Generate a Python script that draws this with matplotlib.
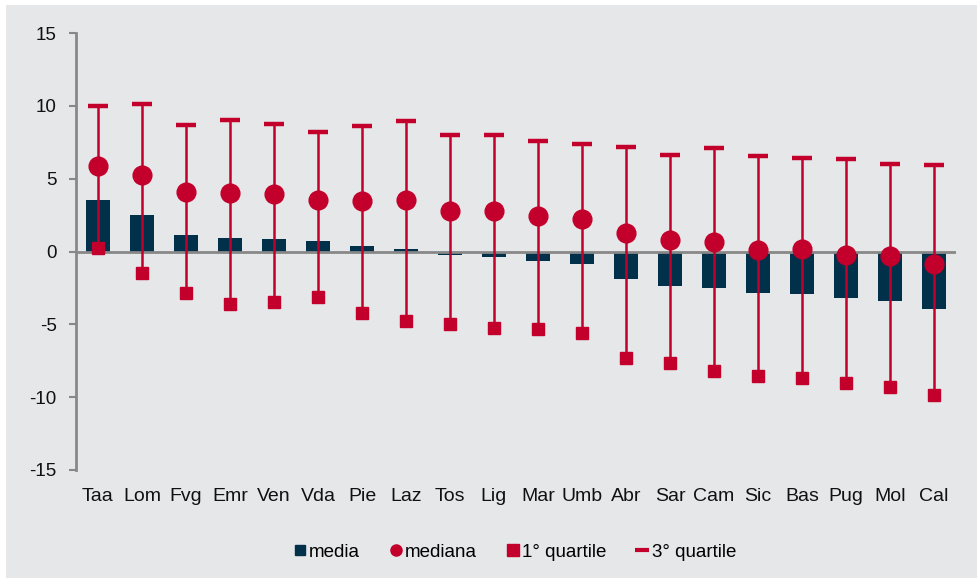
import matplotlib
matplotlib.use("Agg")
import matplotlib.pyplot as plt
from matplotlib.lines import Line2D
from matplotlib.patches import Rectangle
import numpy as np

plt.rcParams["font.family"] = ["Liberation Sans", "DejaVu Sans"]
plt.rcParams["axes.unicode_minus"] = False

# ---------------------------------------------------------------------------
# Data
# ---------------------------------------------------------------------------
regions = ["Taa", "Lom", "Fvg", "Emr", "Ven", "Vda", "Pie", "Laz", "Tos", "Lig",
           "Mar", "Umb", "Abr", "Sar", "Cam", "Sic", "Bas", "Pug", "Mol", "Cal"]
media = [3.55, 2.5, 1.15, 0.9, 0.87, 0.74, 0.39, 0.18, -0.23, -0.41,
         -0.64, -0.87, -1.9, -2.35, -2.48, -2.82, -2.89, -3.17, -3.42, -3.92]
mediana = [5.9, 5.28, 4.06, 3.99, 3.92, 3.51, 3.49, 3.54, 2.78, 2.75,
           2.46, 2.2, 1.27, 0.81, 0.67, 0.1, 0.14, -0.27, -0.32, -0.85]
q1 = [0.21, -1.47, -2.87, -3.62, -3.48, -3.14, -4.24, -4.79, -5.0, -5.27,
      -5.34, -5.62, -7.34, -7.68, -8.23, -8.58, -8.71, -9.06, -9.33, -9.88]
q3 = [9.98, 10.1, 8.65, 9.02, 8.74, 8.19, 8.6, 8.95, 7.98, 7.98,
      7.57, 7.36, 7.16, 6.61, 7.09, 6.54, 6.4, 6.33, 5.99, 5.92]

NAVY = "#00304A"
RED = "#C2002B"
GREY = "#888888"
BG = "#E6E7E9"

fig = plt.figure(figsize=(9.78, 5.78), dpi=100)
fig.patch.set_facecolor("white")
# grey panel behind everything, leaving a thin white strip top and left
fig.patches.append(Rectangle((6 / 978, 0), 1, 1 - 5 / 578, transform=fig.transFigure,
                             facecolor=BG, edgecolor="none", zorder=-10))

ax = fig.add_axes([76 / 978, 1 - 470 / 578, 880 / 978, 437 / 578])
ax.set_facecolor("none")

x = np.arange(len(regions))
ax.bar(x, media, width=0.56, color=NAVY, zorder=2)
ax.axhline(0, color=GREY, lw=2, zorder=2.5)
ax.vlines(x, q1, q3, color=RED, lw=1.8, zorder=3)
ax.plot(x, q3, ls="none", marker="_", ms=14, mew=3.2, color=RED, zorder=4)
ax.plot(x, q1, ls="none", marker="s", ms=8, color=RED, zorder=4)
ax.plot(x, mediana, ls="none", marker="o", ms=13.5, color=RED, zorder=5)

ax.set_xlim(-0.5, len(regions) - 0.5)
ax.set_ylim(-15, 15)
ax.set_yticks([-15, -10, -5, 0, 5, 10, 15])
ax.set_xticks(x)
ax.set_xticklabels(regions)

for s in ["top", "right", "bottom"]:
    ax.spines[s].set_visible(False)
ax.spines["left"].set_color(GREY)
ax.spines["left"].set_linewidth(2)
ax.tick_params(axis="y", length=5, width=1.5, color=GREY, pad=9,
               labelsize=13.5, labelcolor="#111111")
ax.tick_params(axis="x", length=0, pad=13, labelsize=14, labelcolor="#111111")

handles = [
    Line2D([], [], ls="none", marker="s", ms=7, color=NAVY),
    Line2D([], [], ls="none", marker="o", ms=8, color=RED),
    Line2D([], [], ls="none", marker="s", ms=8, color=RED),
    Line2D([], [], ls="none", marker="_", ms=10, mew=3, color=RED),
]
labels = ["media", "mediana", "1° quartile", "3° quartile"]
fig.legend(handles, labels, loc="center", bbox_to_anchor=(515 / 978, 1 - 552 / 578),
           ncol=4, frameon=False, fontsize=13.5, handlelength=0.6,
           handletextpad=0.2, columnspacing=1.6)

fig.savefig("out.png", dpi=100, facecolor=fig.get_facecolor())
